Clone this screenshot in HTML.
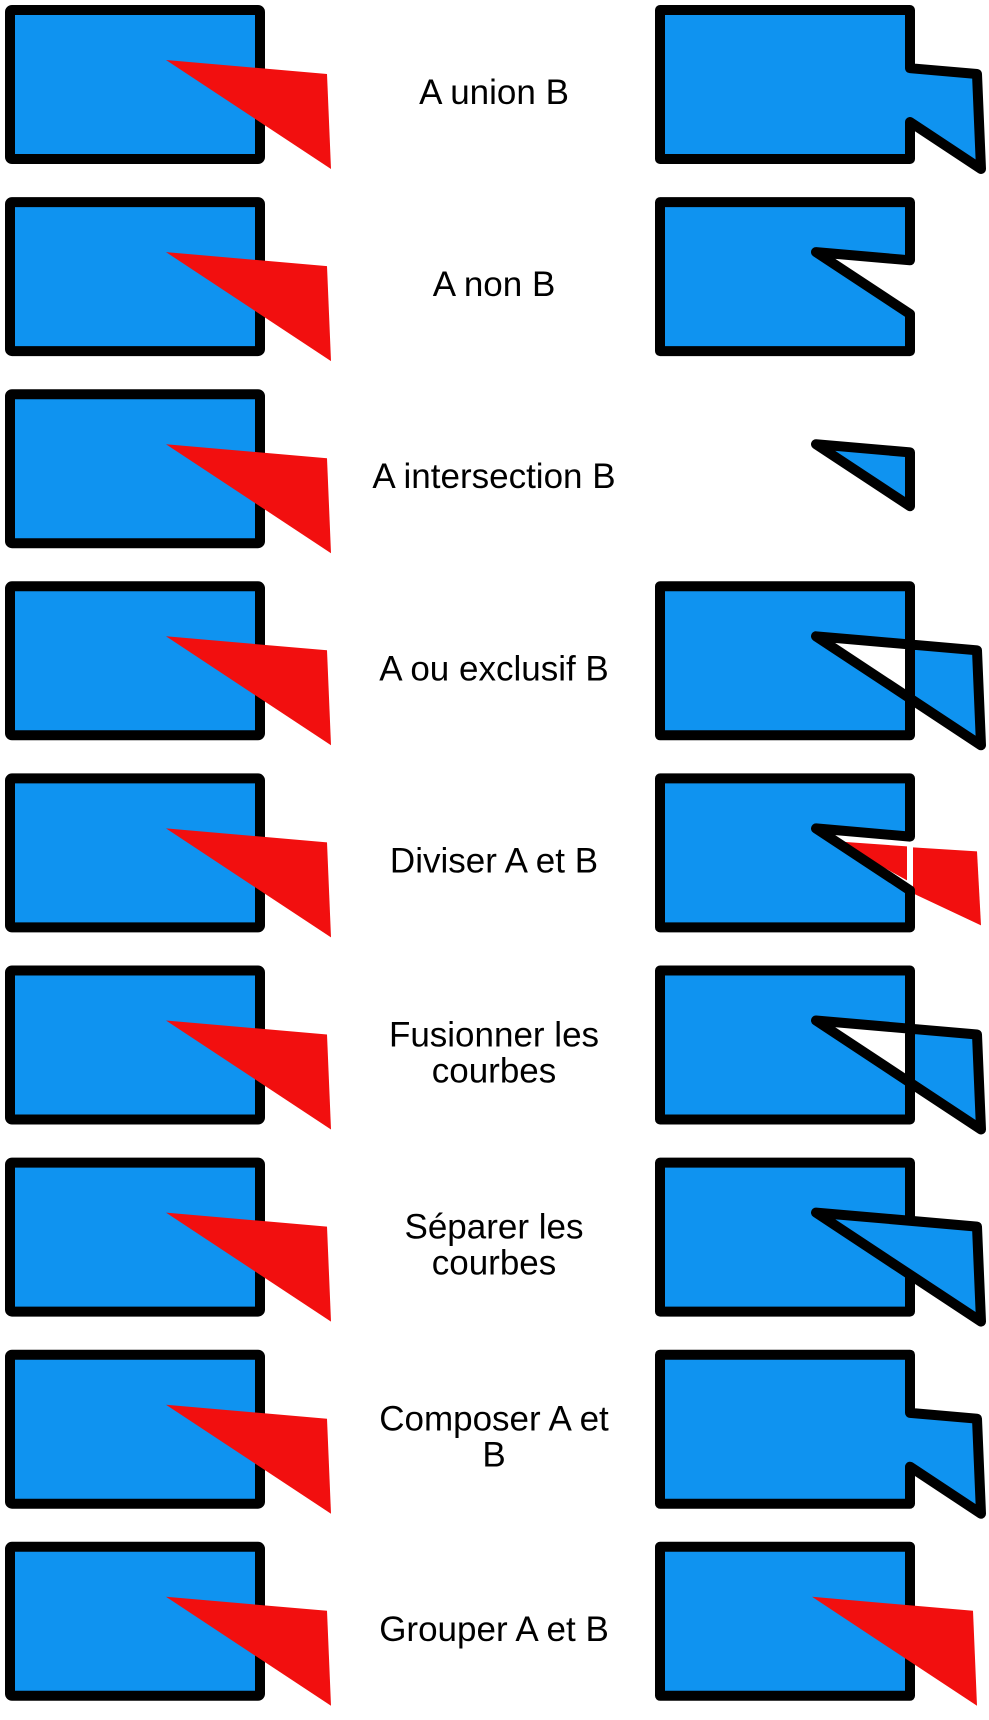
<!DOCTYPE html>
<html><head><meta charset="utf-8"><style>
html,body{margin:0;padding:0;background:#fff;}
svg{display:block;}
text{font-family:"Liberation Sans",sans-serif;font-size:35px;fill:#000;text-anchor:middle;}
</style></head><body>
<svg width="989" height="1720" viewBox="0 0 989 1720" xmlns="http://www.w3.org/2000/svg">
<defs>
<g id="L">
<rect x="10" y="10" width="250" height="149" rx="2" fill="#0f93f0" stroke="#000" stroke-width="10" stroke-linejoin="round"/>
<path d="M166,60 L327,74 L331,169 Z" fill="#f20f0f"/>
</g>
</defs>
<g stroke-linejoin="round" stroke-linecap="round">
<g transform="translate(0,0)"><use href="#L"/>
<text x="494" y="104">A union B</text>
<path transform="translate(-5,0)" d="M665,10 H915 V68.2 L982,74 L986,169 L915,122 V159 H665 Z" fill="#0f93f0" stroke="#000" stroke-width="10"/></g>
<g transform="translate(0,192.1)"><use href="#L"/>
<text x="494" y="104">A non B</text>
<path transform="translate(-5,0)" d="M665,10 H915 V68.2 L821,60 L915,122 V159 H665 Z" fill="#0f93f0" stroke="#000" stroke-width="10"/></g>
<g transform="translate(0,384.2)"><use href="#L"/>
<text x="494" y="104">A intersection B</text>
<path transform="translate(-5,0)" d="M821,60 L915,68.2 V122 Z" fill="#0f93f0" stroke="#000" stroke-width="10"/></g>
<g transform="translate(0,576.3)"><use href="#L"/>
<text x="494" y="104">A ou exclusif B</text>
<path transform="translate(-5,0)" fill-rule="evenodd" d="M665,10 H915 V159 H665 Z M821,60 L982,74 L986,169 Z" fill="#0f93f0" stroke="#000" stroke-width="10"/></g>
<g transform="translate(0,768.4)"><use href="#L"/>
<text x="494" y="104">Diviser A et B</text>
<g transform="translate(-5,0)">
<path d="M842,73 L912,78 L912,112 Z" fill="#f20f0f"/>
<path d="M918,79 L982,83 L986,157 L918,125 Z" fill="#f20f0f"/>
<path d="M665,10 H915 V68.2 L821,60 L915,122 V159 H665 Z" fill="#0f93f0" stroke="#000" stroke-width="10"/></g></g>
<g transform="translate(0,960.5)"><use href="#L"/>
<text x="494" y="86">Fusionner les</text><text x="494" y="122">courbes</text>
<path transform="translate(-5,0)" fill-rule="evenodd" d="M665,10 H915 V159 H665 Z M821,60 L982,74 L986,169 Z" fill="#0f93f0" stroke="#000" stroke-width="10"/></g>
<g transform="translate(0,1152.6)"><use href="#L"/>
<text x="494" y="86">Séparer les</text><text x="494" y="122">courbes</text>
<g transform="translate(-5,0)">
<rect x="665" y="10" width="250" height="149" fill="#0f93f0" stroke="#000" stroke-width="10"/>
<path d="M821,60 L982,74 L986,169 Z" fill="#0f93f0" stroke="#000" stroke-width="10"/></g></g>
<g transform="translate(0,1344.7)"><use href="#L"/>
<text x="494" y="86">Composer A et</text><text x="494" y="122">B</text>
<path transform="translate(-5,0)" d="M665,10 H915 V68.2 L982,74 L986,169 L915,122 V159 H665 Z" fill="#0f93f0" stroke="#000" stroke-width="10"/></g>
<g transform="translate(0,1536.8)"><use href="#L"/>
<text x="494" y="104">Grouper A et B</text>
<g transform="translate(-5,0)">
<rect x="665" y="10" width="250" height="149" fill="#0f93f0" stroke="#000" stroke-width="10"/>
<path d="M817,60 L978,74 L982,169 Z" fill="#f20f0f"/></g></g>
</g>
</svg>
</body></html>
